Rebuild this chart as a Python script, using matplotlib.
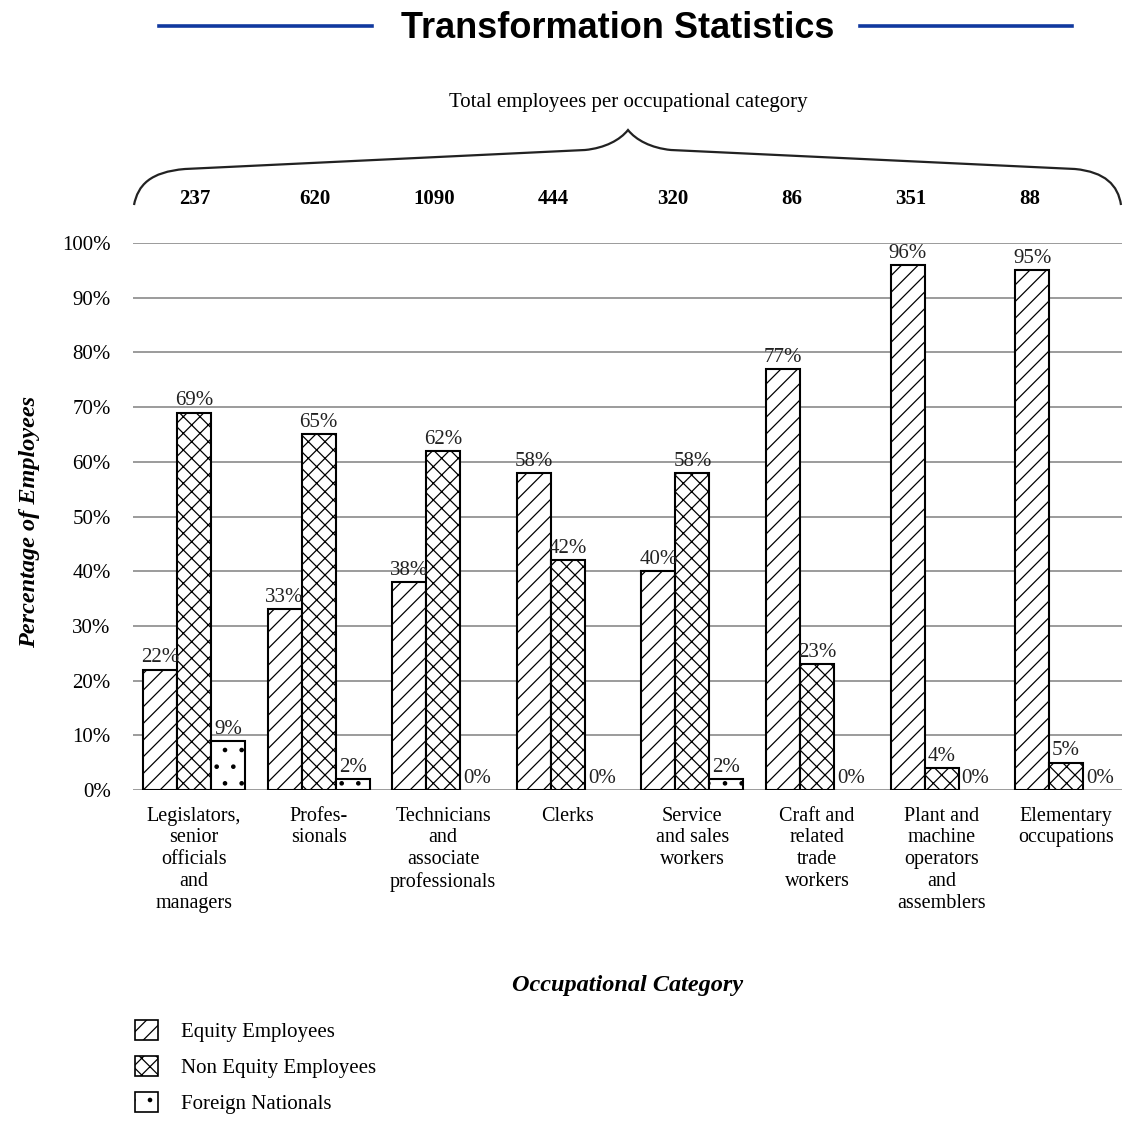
import numpy as np
import matplotlib
matplotlib.use('Agg')
import matplotlib.pyplot as plt
from matplotlib.path import Path
from matplotlib.patches import PathPatch, Patch
from matplotlib.lines import Line2D

categories = ['Legislators,\nsenior\nofficials\nand\nmanagers', 'Profes-\nsionals',
              'Technicians\nand\nassociate\nprofessionals', 'Clerks',
              'Service\nand sales\nworkers', 'Craft and\nrelated\ntrade\nworkers',
              'Plant and\nmachine\noperators\nand\nassemblers', 'Elementary\noccupations']
totals = [237, 620, 1090, 444, 320, 86, 351, 88]
equity = [22, 33, 38, 58, 40, 77, 96, 95]
non_equity = [69, 65, 62, 42, 58, 23, 4, 5]
foreign = [9, 2, 0, 0, 2, 0, 0, 0]
series_names = ['Equity Employees', 'Non Equity Employees', 'Foreign Nationals']
yticks = [0, 10, 20, 30, 40, 50, 60, 70, 80, 90, 100]

W, H = 1125, 1122
serif = 'Liberation Serif'
plt.rcParams['hatch.linewidth'] = 0.9

fig = plt.figure(figsize=(W / 100, H / 100), dpi=100)


def fx(px):
    return px / W


def fy(py):
    return 1 - py / H


ax = fig.add_axes([fx(133), fy(790), fx(1122) - fx(133), fy(243) - fy(790)])

x = np.arange(len(categories))
w = 0.273
series = [equity, non_equity, foreign]
hatches = ['//', 'xx', '.']
for k, (vals, hatch) in enumerate(zip(series, hatches)):
    vals = np.array(vals)
    lw = np.where(vals > 0, 1.5, 0)
    ax.bar(x + (k - 1) * w, vals, w, color='white', edgecolor='black',
           hatch=hatch, linewidth=lw, zorder=3)
    for xi, v in zip(x + (k - 1) * w, vals):
        ax.text(xi, v + 0.4, f'{v}%', ha='center', va='bottom',
                fontsize=15, family=serif, color='#222222', zorder=4)

ax.set_xlim(-0.49, 7.448)
ax.set_ylim(0, 100)
ax.set_yticks(yticks)
ax.set_yticklabels([f'{t}%' for t in yticks], family=serif, fontsize=15)
ax.yaxis.grid(True, color='#8a8a8a', linewidth=1.2, zorder=0)
ax.set_axisbelow(True)
ax.set_xticks(x)
ax.set_xticklabels(categories, family=serif, fontsize=14.5, linespacing=1.2)
ax.tick_params(axis='both', length=0)
ax.tick_params(axis='y', pad=16)
ax.tick_params(axis='x', pad=12)
for s in ax.spines.values():
    s.set_visible(False)

# totals above the brace
for xi, t in zip(np.linspace(0.01, 6.71, len(totals)), totals):
    ax.text(xi, 1.081, str(t), transform=ax.get_xaxis_transform(), ha='center',
            va='center', fontsize=15, family=serif, fontweight='bold')

# curly brace
pts = [(134, 205), (138, 185), (150, 172), (185, 169), (585, 150),
       (605, 148), (620, 140), (628, 130), (636, 140), (651, 148), (671, 150),
       (1075, 169), (1105, 172), (1118, 185), (1121, 205)]
codes = [Path.MOVETO, Path.CURVE4, Path.CURVE4, Path.CURVE4, Path.LINETO,
         Path.CURVE4, Path.CURVE4, Path.CURVE4, Path.CURVE4, Path.CURVE4, Path.CURVE4,
         Path.LINETO, Path.CURVE4, Path.CURVE4, Path.CURVE4]
brace = Path([(fx(a), fy(b)) for a, b in pts], codes)
fig.add_artist(PathPatch(brace, facecolor='none', edgecolor='#222222', lw=1.6,
                         transform=fig.transFigure))
fig.text(fx(628), fy(103), 'Total employees per occupational category',
         ha='center', va='center', fontsize=15, family=serif)

# title with rules
fig.text(fx(618), fy(28), 'Transformation Statistics', ha='center', va='center',
         fontsize=26, family='Liberation Sans', fontweight='bold')
for x0, x1 in [(159, 372), (860, 1072)]:
    fig.add_artist(Line2D([fx(x0), fx(x1)], [fy(26), fy(26)], color='#11399f',
                          lw=2.6, transform=fig.transFigure))

fig.text(fx(30), fy(522), 'Percentage of Employees', rotation=90, ha='center',
         va='center', fontsize=17.5, family=serif, fontweight='bold', style='italic')
fig.text(fx(628), fy(986), 'Occupational Category', ha='center', va='center',
         fontsize=17.5, family=serif, fontweight='bold', style='italic')

handles = [Patch(facecolor='white', edgecolor='black', hatch=h, lw=1.2) for h in hatches]
fig.legend(handles, series_names, loc='upper left', bbox_to_anchor=(fx(135), fy(1020)),
           frameon=False, prop={'family': serif, 'size': 15},
           handlelength=1.1, handleheight=1.1, labelspacing=0.66, handletextpad=1.1,
           borderaxespad=0, borderpad=0)

fig.savefig('out.png', dpi=100)
